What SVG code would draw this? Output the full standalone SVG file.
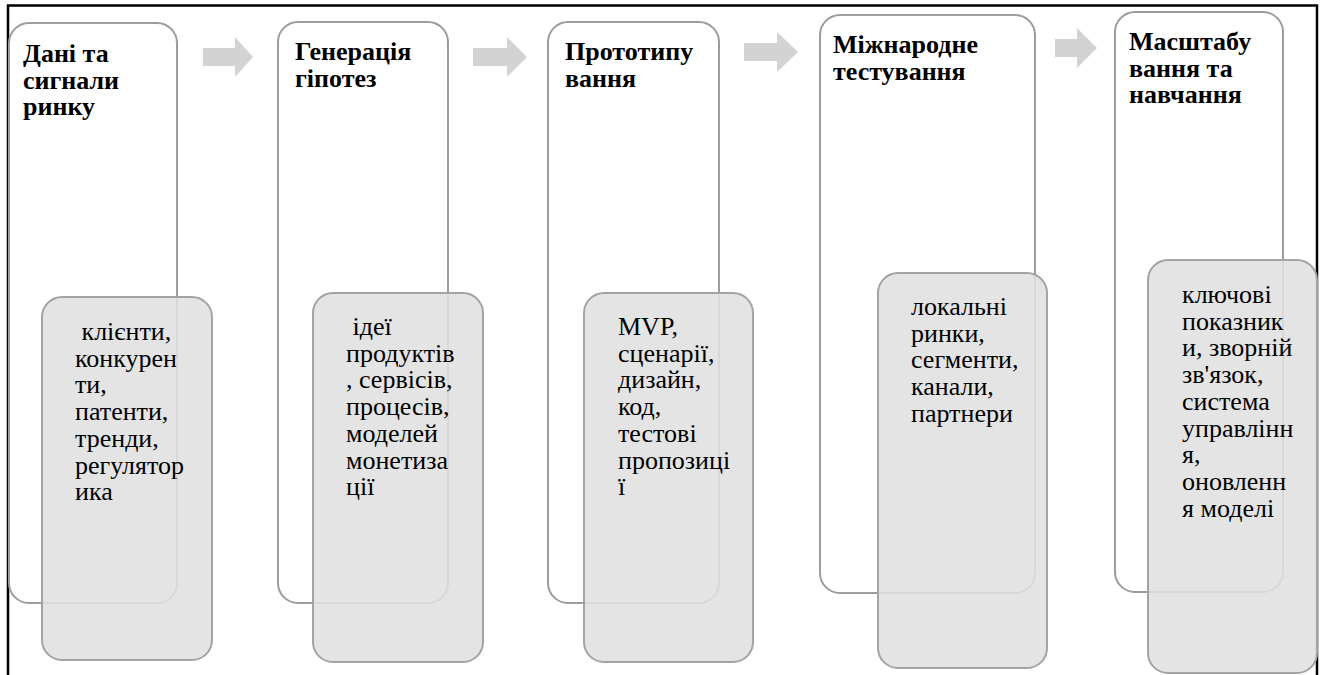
<svg xmlns="http://www.w3.org/2000/svg" width="1324" height="675" viewBox="0 0 1324 675">
<style>
.outer{fill:#fff;stroke:#9c9c9c;stroke-width:2}
.inner{fill:#e0e0e0;fill-opacity:0.88;stroke:#a3a3a3;stroke-width:2}
.hd{font-family:"Liberation Serif","Times New Roman",serif;font-weight:bold;font-size:26px;fill:#000}
.bd{font-family:"Liberation Serif","Times New Roman",serif;font-size:26px;fill:#000}
.arr{fill:#d3d3d3}
.frame{fill:none;stroke:#000;stroke-width:2.5}
</style>
<rect width="1324" height="675" fill="#fff"/>
<path class="frame" d="M8,675 V5.5 H1317 V675"/>
<g id="connectors">
<polygon class="arr" points="203,48 235,48 235,37 253,57 235,77 235,66 203,66"/>
<polygon class="arr" points="473,48 507,48 507,37 527,57 507,77 507,66 473,66"/>
<polygon class="arr" points="744,43 777,43 777,32 798,52 777,72 777,61 744,61"/>
<polygon class="arr" points="1055,39 1077,39 1077,28 1097,48 1077,68 1077,57 1055,57"/>
</g>
<g id="node1">
<rect class="outer" x="9" y="23" width="168" height="580" rx="20"/>
<text class="hd" x="23" y="62"><tspan x="23">Дані та</tspan><tspan x="23" dy="26.7">сигнали</tspan><tspan x="23" dy="26.7">ринку</tspan></text>
<rect class="inner" x="42" y="297" width="170" height="363" rx="20"/>
<text class="bd" y="340"><tspan x="75" xml:space="preserve"> клієнти,</tspan><tspan x="75" dy="26.7">конкурен</tspan><tspan x="75" dy="26.7">ти,</tspan><tspan x="75" dy="26.7">патенти,</tspan><tspan x="75" dy="26.7">тренди,</tspan><tspan x="75" dy="26.7">регулятор</tspan><tspan x="75" dy="26.7">ика</tspan></text>
</g>
<g id="node2">
<rect class="outer" x="278" y="22" width="170" height="581" rx="20"/>
<text class="hd" y="60"><tspan x="295">Генерація</tspan><tspan x="295" dy="26.7">гіпотез</tspan></text>
<rect class="inner" x="313" y="293" width="170" height="369" rx="20"/>
<text class="bd" y="335"><tspan x="346" xml:space="preserve"> ідеї</tspan><tspan x="346" dy="26.7">продуктів</tspan><tspan x="346" dy="26.7">, сервісів,</tspan><tspan x="346" dy="26.7">процесів,</tspan><tspan x="346" dy="26.7">моделей</tspan><tspan x="346" dy="26.7">монетиза</tspan><tspan x="346" dy="26.7">ції</tspan></text>
</g>
<g id="node3">
<rect class="outer" x="548" y="22" width="171" height="581" rx="20"/>
<text class="hd" y="60"><tspan x="565">Прототипу</tspan><tspan x="565" dy="26.7">вання</tspan></text>
<rect class="inner" x="584" y="293" width="169" height="369" rx="20"/>
<text class="bd" y="335"><tspan x="618">MVP,</tspan><tspan x="618" dy="26.7">сценарії,</tspan><tspan x="618" dy="26.7">дизайн,</tspan><tspan x="618" dy="26.7">код,</tspan><tspan x="618" dy="26.7">тестові</tspan><tspan x="618" dy="26.7">пропозиці</tspan><tspan x="618" dy="26.7">ї</tspan></text>
</g>
<g id="node4">
<rect class="outer" x="820" y="15" width="215" height="578" rx="20"/>
<text class="hd" y="53"><tspan x="833">Міжнародне</tspan><tspan x="833" dy="26.7">тестування</tspan></text>
<rect class="inner" x="878" y="273" width="169" height="395" rx="20"/>
<text class="bd" y="315"><tspan x="911">локальні</tspan><tspan x="911" dy="26.7">ринки,</tspan><tspan x="911" dy="26.7">сегменти,</tspan><tspan x="911" dy="26.7">канали,</tspan><tspan x="911" dy="26.7">партнери</tspan></text>
</g>
<g id="node5">
<rect class="outer" x="1115" y="12" width="168" height="580" rx="20"/>
<text class="hd" y="50"><tspan x="1129">Масштабу</tspan><tspan x="1129" dy="26.7">вання та</tspan><tspan x="1129" dy="26.7">навчання</tspan></text>
<rect class="inner" x="1148" y="260" width="169" height="413" rx="20"/>
<text class="bd" y="303"><tspan x="1182">ключові</tspan><tspan x="1182" dy="26.7">показник</tspan><tspan x="1182" dy="26.7">и, зворній</tspan><tspan x="1182" dy="26.7">зв'язок,</tspan><tspan x="1182" dy="26.7">система</tspan><tspan x="1182" dy="26.7">управлінн</tspan><tspan x="1182" dy="26.7">я,</tspan><tspan x="1182" dy="26.7">оновленн</tspan><tspan x="1182" dy="26.7">я моделі</tspan></text>
</g>
</svg>
